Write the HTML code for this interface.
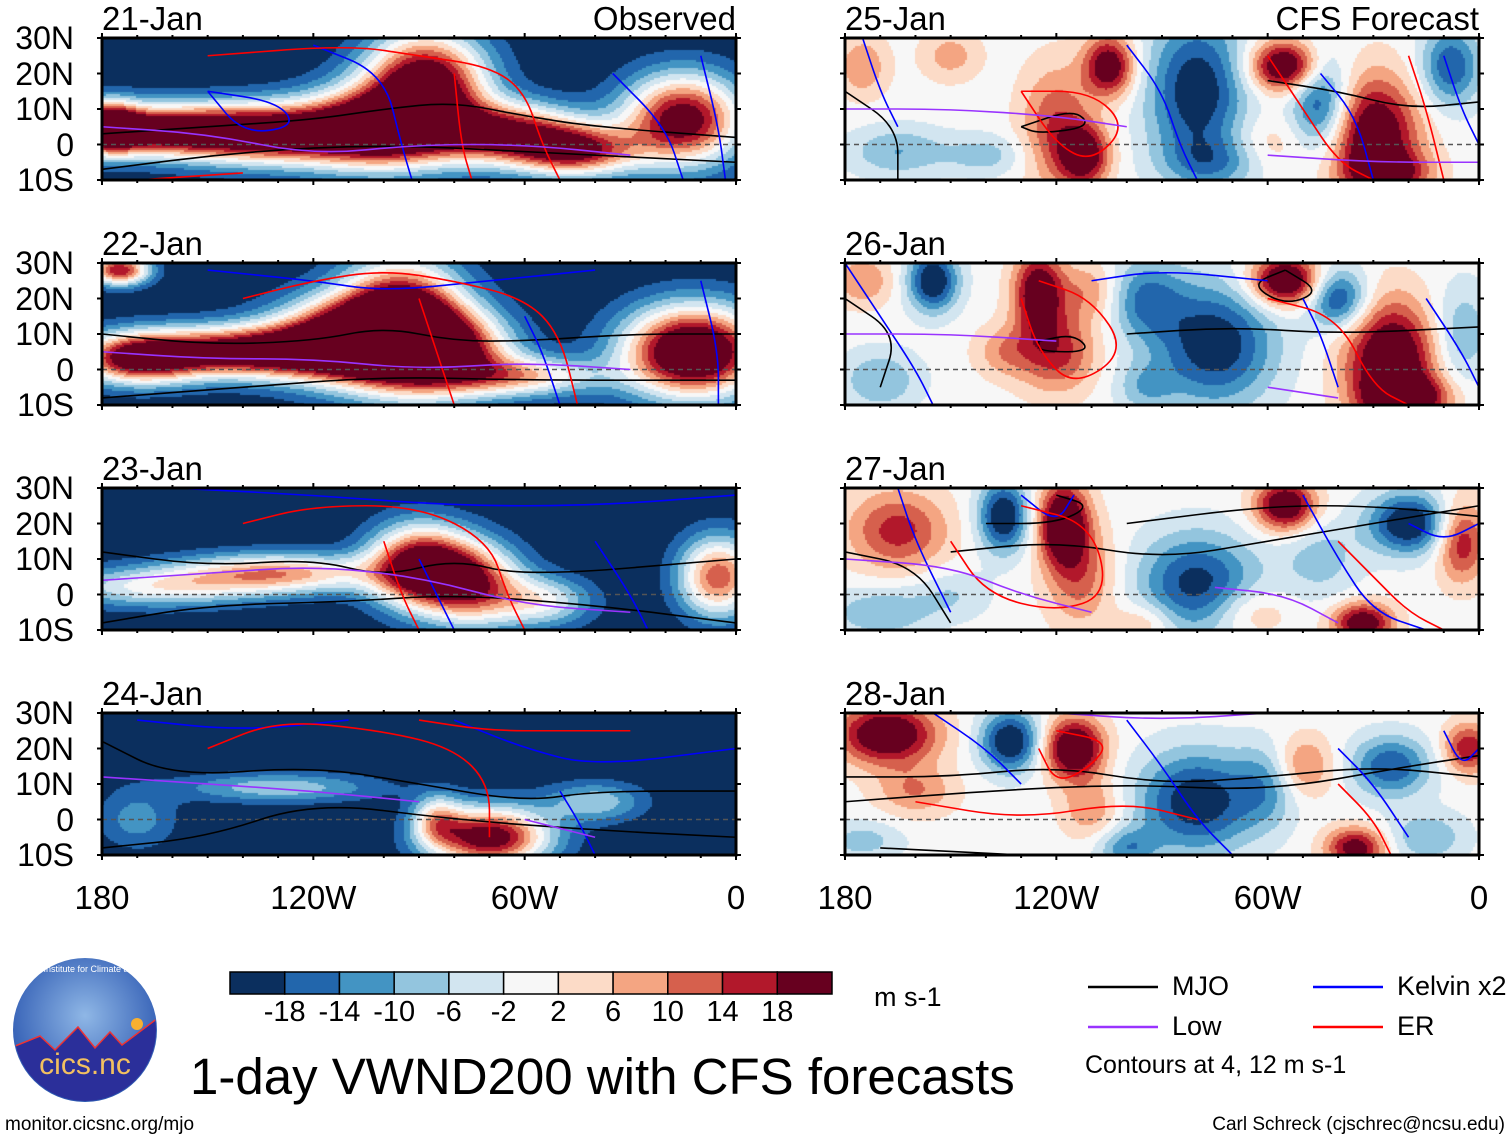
<!DOCTYPE html>
<html><head><meta charset="utf-8">
<style>
body{margin:0;background:#fff;width:1510px;height:1142px;position:relative;overflow:hidden;font-family:"Liberation Sans",Arial,sans-serif;}
.t{position:absolute;color:#000;white-space:nowrap;line-height:1;}
canvas{position:absolute;}
svg{position:absolute;left:0;top:0;}
</style></head>
<body>
<div id="root"></div>
<svg id="ov" width="1510" height="1142"></svg>
<script>
// ---- data ----
const panelDates = ["21-Jan","22-Jan","23-Jan","24-Jan","25-Jan","26-Jan","27-Jan","28-Jan"];
const panelBase = [-22,-22,-22,-22,0,0,0,0];
// blobs: [lonW, lat, sigmaLon, sigmaLat, amplitude m/s]
const blobs0 = [[165,4,20,5,42],[130,3,20,6,42],[100,5,15,8,45],[88,18,12,10,45],[65,3,15,6,40],[45,-2,12,5,35],[15,7,12,9,45],[178,5,6,5,35]];
const blobs1 = [[170,3,12,5,40],[140,5,20,5,45],[110,8,15,8,50],[95,13,12,12,52],[80,5,12,8,35],[60,-2,15,4,25],[12,5,14,9,55],[175,28,6,3,40]];
const blobs2 = [[165,2,20,4,20],[130,6,20,4,30],[90,8,10,8,45],[75,3,10,8,35],[55,-2,10,5,20],[5,5,8,8,35]];
const blobs3 = [[170,0,8,6,10],[130,9,20,3,15],[70,-5,12,6,45],[85,0,5,5,20],[40,5,10,4,15]];
const blobs4 = [[175,22,5,6,10],[150,25,6,5,8],[165,-2,10,5,-10],[140,-3,8,4,-8],[120,5,7,12,14],[112,-3,5,6,22],[105,22,5,6,24],[80,15,10,15,-22],[75,-5,10,5,-10],[55,22,7,5,28],[45,12,6,10,-20],[30,2,9,12,26],[25,-8,8,4,14],[8,22,6,8,-18],[60,0,8,6,6]];
const blobs5 = [[175,25,6,5,10],[155,25,5,6,-24],[125,22,5,8,24],[120,5,8,8,16],[135,5,6,5,8],[95,20,8,8,-14],[75,7,12,12,-22],[95,-5,6,5,-8],[55,25,7,5,28],[40,20,6,6,-20],[25,2,9,12,28],[20,-8,8,4,20],[170,-3,8,6,-10],[5,10,6,10,-10],[110,22,6,6,10]];
const blobs6 = [[165,18,10,8,16],[135,22,5,7,-24],[118,20,5,8,28],[113,5,7,10,12],[80,3,12,10,-20],[95,-8,6,4,8],[55,25,6,5,26],[45,10,8,8,-8],[20,20,8,6,-24],[5,15,5,8,18],[33,-8,6,4,24],[170,-5,10,5,-10],[150,0,8,5,-6],[65,-5,8,5,8]];
const blobs7 = [[168,24,10,6,26],[160,8,8,5,10],[133,22,6,6,-24],[115,20,6,6,28],[110,3,6,6,10],[80,5,12,10,-22],[100,-8,6,4,-12],[60,10,6,8,-10],[50,15,6,6,12],[35,-8,6,4,22],[25,15,8,6,-18],[3,20,5,5,18],[175,-6,8,4,-8],[15,-5,8,5,-10]];
const panelBlobs=[blobs0,blobs1,blobs2,blobs3,blobs4,blobs5,blobs6,blobs7];
// contour lines [lonW,lat]
const mjoLines = [
 [[[180,3],[150,5],[120,7],[100,10],[80,12],[60,8],[40,5],[0,2]],[[180,-7],[140,-2],[100,0],[60,-2],[0,-5]]],
 [[[180,10],[150,7],[120,8],[100,12],[80,8],[60,8],[30,10],[0,10]],[[180,-8],[140,-5],[100,-2],[60,-3],[0,-3]]],
 [[[180,12],[150,8],[120,10],[100,5],[80,10],[60,5],[0,10]],[[180,-8],[150,-3],[110,-2],[80,0],[40,-3],[0,-8]]],
 [[[180,22],[160,12],[120,15],[90,10],[60,5],[40,8],[0,8]],[[180,-8],[150,-5],[120,5],[80,0],[40,-3],[0,-5]]],
 [[[180,15],[165,5],[165,-10]],[[130,5],[115,10],[110,5],[125,3],[130,5]],[[60,18],[40,15],[20,10],[0,12]]],
 [[[180,20],[165,10],[170,-5]],[[125,8],[115,10],[110,5],[125,5],[125,8]],[[55,28],[45,22],[55,18],[65,24],[55,28]],[[100,10],[70,12],[40,10],[0,12]]],
 [[[180,12],[160,8],[150,-8]],[[140,20],[120,20],[110,25],[120,28]],[[150,12],[120,15],[90,10],[60,15],[30,20],[0,25]],[[100,20],[60,25],[30,25],[0,22]]],
 [[[180,12],[150,12],[120,15],[90,10],[60,12],[30,15],[0,12]],[[180,5],[140,8],[100,10],[60,8],[20,15],[0,18]],[[170,-8],[130,-10]]]
];
const kelvinLines = [
 [[[120,28],[100,20],[95,0],[92,-10]],[[35,20],[20,5],[15,-10]],[[150,15],[130,12],[125,5],[140,3],[150,15]],[[10,25],[5,5],[3,-10]]],
 [[[150,28],[120,25],[100,22],[70,25],[40,28]],[[60,15],[55,5],[50,-10]],[[10,25],[5,5],[5,-10]]],
 [[[160,30],[120,28],[80,25],[40,25],[0,28]],[[90,10],[85,0],[80,-10]],[[40,15],[30,0],[25,-10]]],
 [[[170,28],[140,25],[110,28]],[[80,28],[60,20],[40,15],[0,20]],[[50,8],[45,0],[40,-10]]],
 [[[175,30],[170,15],[165,5]],[[100,28],[90,15],[85,0],[80,-10]],[[45,20],[35,8],[30,-10]],[[10,25],[5,10],[0,0]]],
 [[[180,30],[170,15],[160,0],[155,-10]],[[110,25],[90,28],[60,25]],[[50,20],[45,10],[40,-5]],[[15,20],[5,5],[0,-5]]],
 [[[165,30],[160,15],[150,-5]],[[130,28],[120,20],[115,28]],[[50,28],[40,10],[30,-5],[15,-10]],[[20,20],[10,15],[0,20]]],
 [[[155,30],[140,20],[130,10]],[[100,28],[90,15],[80,0],[70,-10]],[[40,20],[30,10],[20,-5]],[[10,25],[5,15],[0,20]]]
];
const erLines = [
 [[[150,25],[110,28],[90,25],[70,22],[60,15],[55,0],[50,-10]],[[80,20],[78,0],[75,-10]],[[170,-10],[140,-8]]],
 [[[140,20],[120,25],[100,28],[80,25],[60,20],[50,10],[45,-10]],[[90,20],[85,5],[80,-10]]],
 [[[140,20],[120,25],[90,25],[70,15],[65,0],[60,-10]],[[100,15],[95,0],[90,-10]]],
 [[[150,20],[130,28],[100,25],[80,20],[70,10],[70,-5]],[[90,28],[70,25],[50,25],[30,25]]],
 [[[130,15],[120,0],[110,-5],[100,5],[110,15],[130,15]],[[60,25],[50,10],[40,-5],[30,-10]],[[20,25],[15,10],[10,-10]]],
 [[[130,20],[125,5],[115,-5],[100,5],[110,20],[125,25]],[[60,20],[40,15],[30,-5],[20,-10]]],
 [[[150,15],[140,0],[120,-5],[105,0],[110,20],[130,25]],[[40,15],[30,5],[20,-5],[10,-10]]],
 [[[125,20],[120,10],[110,15],[105,22],[120,25]],[[160,5],[130,0],[100,5],[80,0]],[[40,10],[30,0],[25,-10]]]
];
const lowLines = [
 [[[180,5],[150,3],[120,-3],[90,0],[60,0],[30,-3]]],
 [[[180,5],[150,3],[120,3],[90,0],[60,2],[30,0]]],
 [[[180,4],[150,6],[120,8],[90,5],[60,-3],[30,-5]]],
 [[[180,12],[150,10],[120,8],[90,5]],[[60,0],[40,-5]]],
 [[[180,10],[150,10],[120,8],[100,5]],[[60,-3],[30,-5],[0,-5]]],
 [[[180,10],[150,10],[120,8]],[[60,-5],[40,-8]]],
 [[[180,10],[150,8],[130,0],[110,-5]],[[75,2],[55,0],[40,-8]]],
 [[[120,30],[90,28],[60,30]]]
];
const cbLabels = ["-18","-14","-10","-6","-2","2","6","10","14","18"];
const cbColors = ["#0b2f5e","#2266ac","#4394c3","#93c5de","#d2e5f0","#f7f7f7","#fcdbc7","#f4a582","#d6604d","#b2182b","#67001f"];
const latTicks = ["30N","20N","10N","0","10S"];
const lonTicks = ["180","120W","60W","0"];

// ---- layout ----
const PW=634, PH=142, lefts=[102,845], tops=[38,263,488,713];
const root=document.getElementById('root'), ov=document.getElementById('ov');
const NS="http://www.w3.org/2000/svg";
function colorIdx(v){let i=Math.floor((v+22)/4);return Math.max(0,Math.min(10,i));}
function xs(L,lonW){return L+(180-lonW)/180*PW;}
function ys(T,lat){return T+(30-lat)/40*PH;}
function addText(txt,x,y,size,name,align){const d=document.createElement('div');d.className='t';d.textContent=txt;d.style.fontSize=size+'px';d.style.top=y+'px';
 if(align==='right'){d.style.right=(1510-x)+'px';}else if(align==='center'){d.style.left=x+'px';d.style.transform='translateX(-50%)';}else d.style.left=x+'px';
 root.appendChild(d);return d;}
function hex(c){return [parseInt(c.slice(1,3),16),parseInt(c.slice(3,5),16),parseInt(c.slice(5,7),16)];}
const rgb=cbColors.map(hex);
const lineSets=[[mjoLines,'#000'],[kelvinLines,'#0000ff'],[erLines,'#ff0000'],[lowLines,'#9933ff']];

for(let p=0;p<8;p++){
 const L=lefts[p<4?0:1], T=tops[p%4];
 const cv=document.createElement('canvas');cv.width=PW;cv.height=PH;cv.style.left=L+'px';cv.style.top=T+'px';
 
 
 root.appendChild(cv);
 const ctx=cv.getContext('2d'),img=ctx.createImageData(PW,PH);
 const bl=panelBlobs[p];
 for(let py=0;py<PH;py+=2)for(let px=0;px<PW;px+=2){
  const lon=180-(px+1)/PW*180, lat=30-(py+1)/PH*40;
  let v=panelBase[p];
  for(const b of bl){const dx=(lon-b[0])/b[2],dy=(lat-b[1])/b[3];v+=b[4]*Math.exp(-0.5*(dx*dx+dy*dy));}
  const c=rgb[colorIdx(v)];
  for(let a=0;a<2;a++)for(let bb=0;bb<2;bb++){const k=((py+a)*PW+px+bb)*4;img.data[k]=c[0];img.data[k+1]=c[1];img.data[k+2]=c[2];img.data[k+3]=255;}
 }
 ctx.putImageData(img,0,0);
 const cp=document.createElementNS(NS,'clipPath');cp.id='cp'+p;const cr=document.createElementNS(NS,'rect');
 cr.setAttribute('x',L);cr.setAttribute('y',T);cr.setAttribute('width',PW);cr.setAttribute('height',PH);cp.appendChild(cr);ov.appendChild(cp);
 const g=document.createElementNS(NS,'g');g.setAttribute('clip-path','url(#cp'+p+')');ov.appendChild(g);
 const eq=document.createElementNS(NS,'line');eq.setAttribute('x1',L);eq.setAttribute('x2',L+PW);eq.setAttribute('y1',ys(T,0));eq.setAttribute('y2',ys(T,0));
 eq.setAttribute('stroke','#555');eq.setAttribute('stroke-width','1.5');eq.setAttribute('stroke-dasharray','5,4');
 
 
 g.appendChild(eq);
 for(const [sets,col] of lineSets){
  for(const ln of sets[p]){
   const pts=ln.map(q=>[xs(L,q[0]),ys(T,q[1])]);
   let d='M'+pts[0][0]+','+pts[0][1];
   for(let i=1;i<pts.length;i++){const a=pts[i-1],b=pts[i];const mx=(a[0]+b[0])/2,my=(a[1]+b[1])/2;d+=' Q'+a[0]+','+a[1]+' '+mx+','+my;}
   d+=' L'+pts[pts.length-1][0]+','+pts[pts.length-1][1];
   const pa=document.createElementNS(NS,'path');pa.setAttribute('d',d);pa.setAttribute('fill','none');pa.setAttribute('stroke',col);pa.setAttribute('stroke-width','1.6');
   
   
   g.appendChild(pa);
  }
 }
 const fr=document.createElementNS(NS,'rect');fr.setAttribute('x',L);fr.setAttribute('y',T);fr.setAttribute('width',PW);fr.setAttribute('height',PH);
 fr.setAttribute('fill','none');fr.setAttribute('stroke','#000');fr.setAttribute('stroke-width','3');
 
 
 ov.appendChild(fr);
 for(let lon=180;lon>=0;lon-=10){const x=xs(L,lon);const maj=lon%60===0;
  for(const [y0,y1] of [[T,T-(maj?5:3)],[T+PH,T+PH+(maj?5:3)]]){const t=document.createElementNS(NS,'line');t.setAttribute('x1',x);t.setAttribute('x2',x);t.setAttribute('y1',y0);t.setAttribute('y2',y1);t.setAttribute('stroke','#000');t.setAttribute('stroke-width','2');ov.appendChild(t);}}
 for(let lat=-10;lat<=30;lat+=10){const y=ys(T,lat);for(const [x0,x1] of [[L,L-5],[L+PW,L+PW+5]]){const t=document.createElementNS(NS,'line');t.setAttribute('x1',x0);t.setAttribute('x2',x1);t.setAttribute('y1',y);t.setAttribute('y2',y);t.setAttribute('stroke','#000');t.setAttribute('stroke-width','2');ov.appendChild(t);}}
 addText(panelDates[p],L,T-36,33,'panel-date-label');
 if(p===0)addText('Observed',L+PW,T-36,33,'observed-label','right');
 if(p===4)addText('CFS Forecast',L+PW,T-36,33,'forecast-label','right');
 if(p<4){latTicks.forEach((s,i)=>addText(s,74,T+i*PH/4-16,32,'lat-tick-label','right'));}
}
for(const L of lefts){lonTicks.forEach((s,i)=>addText(s,L+i*PW/3,881,33,'lon-tick-label','center'));}
const cbX=230,cbW=602,cbY=972,cbH=22,bw=cbW/11;
cbColors.forEach((c,i)=>{const r=document.createElementNS(NS,'rect');r.setAttribute('x',cbX+i*bw);r.setAttribute('y',cbY);r.setAttribute('width',bw);r.setAttribute('height',cbH);r.setAttribute('fill',c);r.setAttribute('stroke','#000');r.setAttribute('stroke-width','1.5');
 
 
 ov.appendChild(r);});
cbLabels.forEach((s,i)=>addText(s,cbX+(i+1)*bw,998,29,'colorbar-label','center'));
addText('m s-1',874,984,27,'units-label');
addText('1-day VWND200 with CFS forecasts',190,1051,51,'chart-title');
addText('monitor.cicsnc.org/mjo',5,1115,19,'source-url');
addText('Carl Schreck (cjschrec@ncsu.edu)',1505,1115,19,'author-credit','right');
[[1088,987,'#000','MJO'],[1313,987,'#0000ff','Kelvin x2'],[1088,1027,'#9933ff','Low'],[1313,1027,'#ff0000','ER']].forEach(e=>{
 const l=document.createElementNS(NS,'line');l.setAttribute('x1',e[0]);l.setAttribute('x2',e[0]+70);l.setAttribute('y1',e[1]);l.setAttribute('y2',e[1]);l.setAttribute('stroke',e[2]);l.setAttribute('stroke-width','2.5');
 
 
 ov.appendChild(l);
 addText(e[3],e[0]+84,e[1]-14,27,'legend-entry');});
addText('Contours at 4, 12 m s-1',1085,1053,25,'contour-note');
const lg=document.createElementNS(NS,'g');
lg.innerHTML='<defs><clipPath id="lc"><circle cx="85" cy="1030" r="71"/></clipPath><radialGradient id="lgr" cx="50%" cy="40%" r="60%"><stop offset="0" stop-color="#8fb7e6"/><stop offset="1" stop-color="#2a56b0"/></radialGradient></defs>'+
'<circle cx="85" cy="1030" r="72" fill="url(#lgr)"/>'+
'<g clip-path="url(#lc)"><path d="M10,1048 L40,1036 L55,1050 L78,1027 L95,1048 L110,1032 L122,1045 L158,1018 L160,1110 L10,1110Z" fill="#2b2f9a" stroke="#e33" stroke-width="1.5"/></g>'+
'<circle cx="137" cy="1024" r="6" fill="#f8b030"/>'+
'<text x="85" y="1074" font-family="Liberation Sans, sans-serif" font-size="30" fill="#f2c060" text-anchor="middle">cics.nc</text>'+
'<text x="85" y="972" font-family="Liberation Sans, sans-serif" font-size="9" fill="#fff" text-anchor="middle">Cooperative Institute for Climate and Satellites</text>';
ov.appendChild(lg);
</script>
</body></html>
